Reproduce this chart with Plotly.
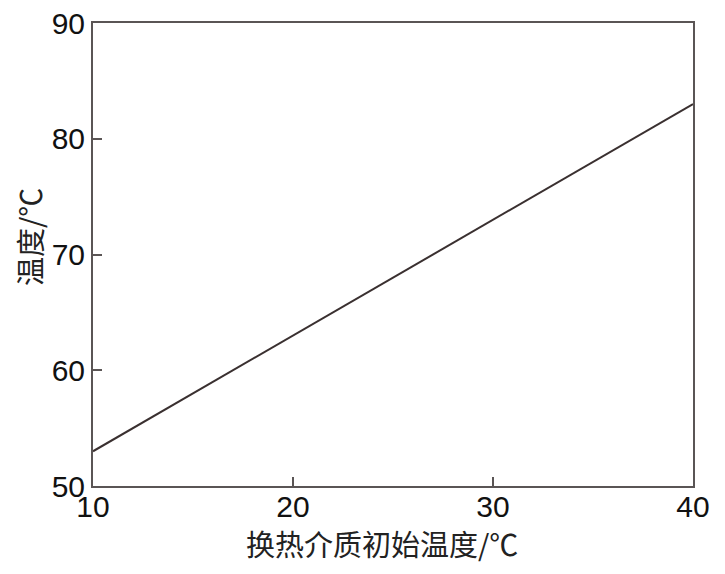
import plotly.graph_objects as go

x_vals = [10, 40]
y_vals = [53, 83]
x_ticks = [10, 20, 30, 40]
y_ticks = [50, 60, 70, 80, 90]
x_title = "换热介质初始温度/℃"
y_title = "温度/℃"

fig = go.Figure()
fig.add_trace(go.Scatter(x=x_vals, y=y_vals, mode="lines",
                         line=dict(color="#3a3030", width=2), showlegend=False))

axis_common = dict(showgrid=False, zeroline=False, showline=True, linecolor="#5a5555",
                   linewidth=2, mirror=True, ticks="inside", ticklen=9, tickwidth=2,
                   tickcolor="#5a5555", automargin=False, ticklabeloverflow="allow",
                   tickfont=dict(family="Liberation Sans, Arial", size=30, color="#111"))

fig.update_xaxes(range=[10, 40], tickvals=x_ticks, ticklabelstandoff=-7, **axis_common)
fig.update_yaxes(range=[50, 90], tickvals=y_ticks, **axis_common)

title_font = dict(family="Noto Sans CJK SC", size=29, color="#222")
fig.add_annotation(text=x_title, xref="paper", yref="paper", x=0.4817, y=0,
                   yshift=-57, xanchor="center", yanchor="middle", showarrow=False,
                   font=title_font)
fig.add_annotation(text=y_title, xref="paper", yref="paper", x=0, y=0.5378,
                   xshift=-64, xanchor="center", yanchor="middle", showarrow=False,
                   textangle=-90, font=title_font)

fig.update_layout(width=717, height=566, plot_bgcolor="white", paper_bgcolor="white",
                  margin=dict(l=85, r=32, t=15, b=88))
fig.write_html("out.html")
